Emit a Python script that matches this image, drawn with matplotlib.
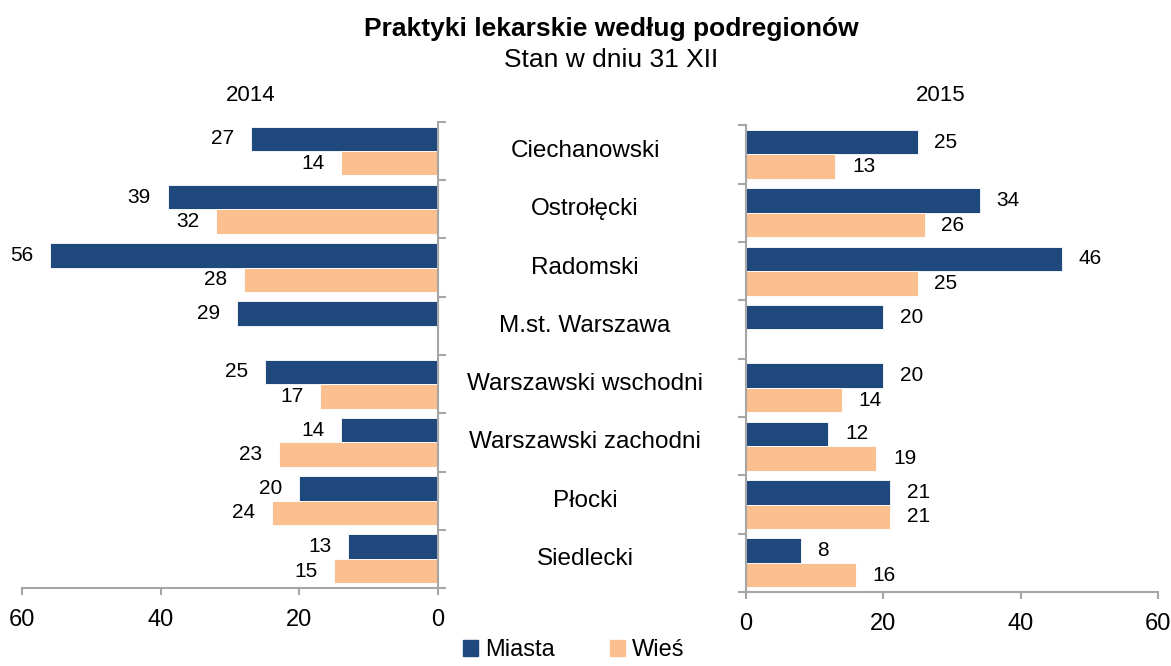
import numpy as np
import matplotlib.pyplot as plt
from matplotlib.patches import Patch
from matplotlib.transforms import blended_transform_factory

plt.rcParams['font.family'] = ['Liberation Sans', 'DejaVu Sans']

# dane
podregiony = ['Ciechanowski', 'Ostrołęcki', 'Radomski', 'M.st. Warszawa',
              'Warszawski wschodni', 'Warszawski zachodni', 'Płocki', 'Siedlecki']
miasta_2014 = [27, 39, 56, 29, 25, 14, 20, 13]
wies_2014 = [14, 32, 28, np.nan, 17, 23, 24, 15]
miasta_2015 = [25, 34, 46, 20, 20, 12, 21, 8]
wies_2015 = [13, 26, 25, np.nan, 14, 19, 21, 16]

kol_miasta = '#1F497D'
kol_wies = '#FAC090'
szary = '#A6A6A6'

fig = plt.figure(figsize=(11.71, 6.66), dpi=100)
ax1 = fig.add_axes([0.0188, 0.117, 0.3552, 0.700])
ax2 = fig.add_axes([0.637, 0.111, 0.352, 0.701])

y = np.arange(len(podregiony))
h = 0.42

def rysuj(ax, miasta, wies, lewy):
    ax.barh(y - h / 2, miasta, height=h, color=kol_miasta, edgecolor='white', linewidth=0.6)
    ax.barh(y + h / 2, wies, height=h, color=kol_wies, edgecolor='white', linewidth=0.6)
    for yy, m, w in zip(y, miasta, wies):
        for val, pos in ((m, yy - h / 2), (w, yy + h / 2)):
            if np.isnan(val):
                continue
            if lewy:
                ax.annotate(str(int(val)), (val, pos), xytext=(-12, 0), textcoords='offset points',
                            ha='right', va='center', fontsize=15)
            else:
                ax.annotate(str(int(val)), (val, pos), xytext=(12, 0), textcoords='offset points',
                            ha='left', va='center', fontsize=15)
    ax.set_ylim(len(podregiony) - 0.5, -0.5)
    ax.set_yticks(np.arange(-0.5, len(podregiony), 1))
    ax.set_yticklabels([])
    ax.set_xticks([0, 20, 40, 60])
    ax.tick_params(axis='x', labelsize=17, length=5, color=szary, width=1.5, pad=10)
    ax.tick_params(axis='y', length=6, color=szary, width=1.5)
    for s in ax.spines.values():
        s.set_color(szary)
        s.set_linewidth(1.5)
    ax.spines['top'].set_visible(False)

rysuj(ax1, miasta_2014, wies_2014, True)
ax1.set_xlim(60, 0)
ax1.spines['left'].set_visible(False)
ax1.yaxis.tick_right()

rysuj(ax2, miasta_2015, wies_2015, False)
ax2.set_xlim(0, 60)
ax2.spines['right'].set_visible(False)

# nazwy podregionow
tr = blended_transform_factory(fig.transFigure, ax1.transData)
for yy, nazwa in zip(y, podregiony):
    ax1.text(0.4996, yy, nazwa, transform=tr, ha='center', va='center', fontsize=17.5)

fig.text(0.522, 0.957, 'Praktyki lekarskie według podregionów', ha='center', va='center',
         fontsize=19, fontweight='bold')
fig.text(0.522, 0.91, 'Stan w dniu 31 XII', ha='center', va='center', fontsize=19)
fig.text(0.214, 0.857, '2014', ha='center', va='center', fontsize=16)
fig.text(0.803, 0.857, '2015', ha='center', va='center', fontsize=16)

uchwyty = [Patch(color=kol_miasta, label='Miasta'), Patch(color=kol_wies, label='Wieś')]
fig.legend(handles=uchwyty, loc='center', bbox_to_anchor=(0.49, 0.024), ncol=2, frameon=False,
           fontsize=17, handlelength=0.65, handleheight=0.65, handletextpad=0.3, columnspacing=2.3,
           borderpad=0.2)

fig.savefig('out.png', dpi=100)
